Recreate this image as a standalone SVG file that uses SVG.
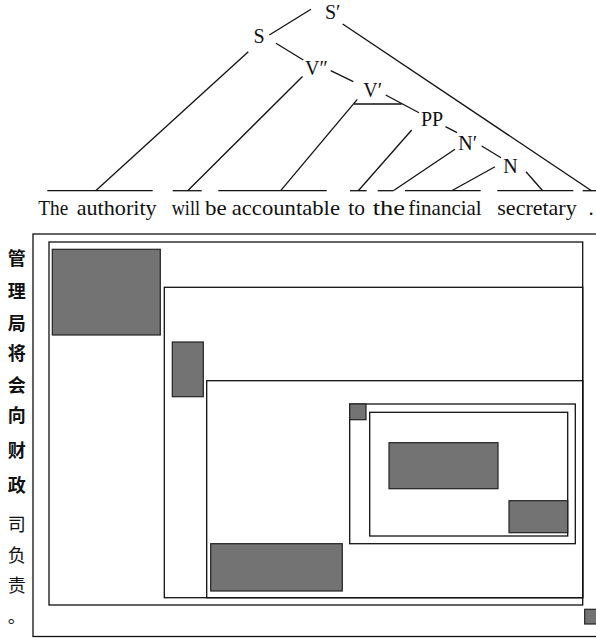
<svg xmlns="http://www.w3.org/2000/svg" width="596" height="639" viewBox="0 0 596 639">
<style>
.lbl{font-size:20px;fill:#111}
.wd{font-size:21px;fill:#111}
.cj{font-family:"Noto Sans CJK SC","Noto Sans CJK JP",sans-serif;font-size:18px;fill:#111;text-anchor:middle}
.b{font-weight:bold}
.ln{stroke:#111;stroke-width:1.3;fill:none}
.box{fill:none;stroke:#111;stroke-width:1.3}
.blk{fill:#737373;stroke:#222;stroke-width:1.2}
</style>
<rect width="596" height="639" fill="#fff"/>
<g id="connectors" class="ln">
<line x1="47.3" y1="190.7" x2="152.7" y2="190.7"/>
<line x1="172.7" y1="190.7" x2="201.7" y2="190.7"/>
<line x1="218.3" y1="190.7" x2="326.7" y2="190.7"/>
<line x1="350" y1="190.7" x2="366.7" y2="190.7"/>
<line x1="377.7" y1="190.7" x2="393.3" y2="190.7"/>
<line x1="405" y1="190.7" x2="480.7" y2="190.7"/>
<line x1="497.3" y1="190.7" x2="573.3" y2="190.7"/>
<line x1="582.7" y1="190.7" x2="600" y2="190.7"/>
<line x1="269.3" y1="35" x2="311" y2="9.3"/>
<line x1="248.3" y1="51.7" x2="95.7" y2="190.7"/>
<line x1="276" y1="43.3" x2="303.3" y2="60"/>
<line x1="342.7" y1="24" x2="591.5" y2="190.7"/>
<line x1="302.5" y1="76.5" x2="187.7" y2="190.7"/>
<line x1="330.7" y1="70.7" x2="353.3" y2="81.7"/>
<line x1="357.3" y1="99.3" x2="280.7" y2="190.7"/>
<line x1="354" y1="104" x2="401.7" y2="104"/>
<line x1="385.7" y1="95" x2="419" y2="112.7"/>
<line x1="411.7" y1="130" x2="358.3" y2="190.7"/>
<line x1="445.5" y1="126.7" x2="457" y2="132.7"/>
<line x1="455" y1="149.3" x2="393.3" y2="190.7"/>
<line x1="481.7" y1="146" x2="501" y2="157.7"/>
<line x1="495" y1="166.7" x2="451.7" y2="190.7"/>
<line x1="526" y1="171.7" x2="542.7" y2="190.7"/>
</g>
<g font-family="'Liberation Serif', 'DejaVu Serif', serif">
<g id="node-Sbar"><text class="lbl" x="325" y="18.5">S′</text></g>
<g id="node-S"><text class="lbl" x="253.5" y="43.3">S</text></g>
<g id="node-V2"><text class="lbl" x="305" y="75">V″</text></g>
<g id="node-V1"><text class="lbl" x="363.3" y="96.7">V′</text></g>
<g id="node-PP"><text class="lbl" x="421" y="126">PP</text></g>
<g id="node-N1"><text class="lbl" x="458.3" y="150">N′</text></g>
<g id="node-N"><text class="lbl" x="503.3" y="173.3">N</text></g>
<g id="words">
<text class="wd" x="38.3" y="215" textLength="30" lengthAdjust="spacingAndGlyphs">The</text>
<text class="wd" x="76.7" y="215" textLength="80" lengthAdjust="spacingAndGlyphs">authority</text>
<text class="wd" x="171.7" y="215" textLength="28.3" lengthAdjust="spacingAndGlyphs">will</text>
<text class="wd" x="205" y="215" textLength="21.7" lengthAdjust="spacingAndGlyphs">be</text>
<text class="wd" x="231.7" y="215" textLength="108.3" lengthAdjust="spacingAndGlyphs">accountable</text>
<text class="wd" x="348.3" y="215" textLength="16.7" lengthAdjust="spacingAndGlyphs">to</text>
<text class="wd" x="372.7" y="215" textLength="32.3" lengthAdjust="spacingAndGlyphs">the</text>
<text class="wd" x="408.3" y="215" textLength="73.4" lengthAdjust="spacingAndGlyphs">financial</text>
<text class="wd" x="497.3" y="215" textLength="79.4" lengthAdjust="spacingAndGlyphs">secretary</text>
<text class="wd" x="588.5" y="215">.</text>
</g>
</g>
<g id="chinese">
<text class="cj b" x="16.7" y="264.8">管</text>
<text class="cj b" x="16.7" y="298.2">理</text>
<text class="cj b" x="16.7" y="329.8">局</text>
<text class="cj b" x="16.7" y="359.8">将</text>
<text class="cj b" x="16.7" y="391.5">会</text>
<text class="cj b" x="16.7" y="421.5">向</text>
<text class="cj b" x="16.7" y="456.5">财</text>
<text class="cj b" x="16.7" y="492.2">政</text>
<text class="cj" x="16.7" y="530.5">司</text>
<text class="cj" x="16.7" y="561.5">负</text>
<text class="cj" x="16.7" y="592.2">责</text>
<text class="cj" x="16.7" y="623.2">。</text>
</g>
<g id="frame-outer"><rect class="box" x="33" y="234" width="570" height="402.5"/></g>
<g id="frame-A"><rect class="box" x="49" y="242" width="533.7" height="363"/></g>
<g id="frame-B"><rect class="box" x="164.3" y="287.3" width="418.4" height="310.4"/></g>
<g id="frame-C"><rect class="box" x="206.7" y="380.7" width="376" height="217"/></g>
<g id="frame-D"><rect class="box" x="349.7" y="404" width="225.6" height="139.7"/></g>
<g id="frame-E"><rect class="box" x="369.7" y="412.3" width="198" height="123.7"/></g>
<g id="block-1"><rect class="blk" x="52.3" y="249.3" width="108" height="85.7"/></g>
<g id="block-2"><rect class="blk" x="172.3" y="342" width="31" height="54.7"/></g>
<g id="block-3"><rect class="blk" x="210.7" y="543.7" width="131.6" height="47.3"/></g>
<g id="block-4"><rect class="blk" x="349.7" y="404" width="16.3" height="15.7"/></g>
<g id="block-5"><rect class="blk" x="389" y="442.7" width="109" height="46"/></g>
<g id="block-6"><rect class="blk" x="509" y="500.7" width="58.7" height="32"/></g>
<g id="block-7"><rect class="blk" x="584.7" y="609.3" width="15" height="14.7"/></g>
</svg>
